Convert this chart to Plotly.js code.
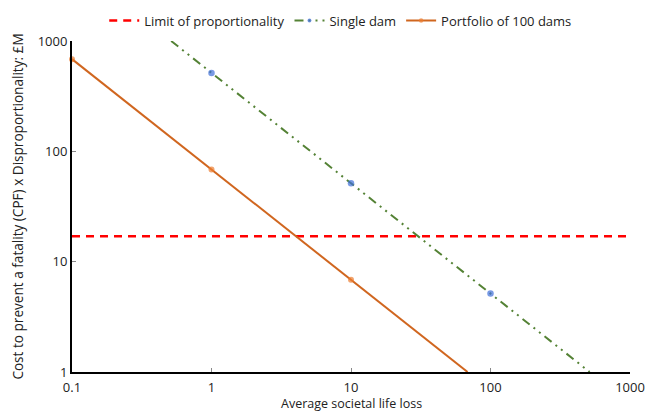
<!DOCTYPE html>
<html>
<head>
<meta charset="utf-8">
<script src="https://cdn.plot.ly/plotly-3.0.1.min.js"></script>
<style>html,body{margin:0;padding:0;background:#fff;}#chart{width:649px;height:412px;}</style>
</head>
<body>
<div id="chart"></div>
<script>
// Data
const xTickVals = [0.1, 1, 10, 100, 1000];
const xTickText = ["0.1", "1", "10", "100", "1000"];
const yTickVals = [1, 10, 100, 1000];
const yTickText = ["1", "10", "100", "1000"];
const xTitle = "Average societal life loss";
const yTitle = "Cost to prevent a fatality (CPF) x Disproportionality: £M";

const limitX = [0.1, 1000];
const limitY = [17, 17];

const singleX = [0.514, 1, 10, 100, 514];
const singleY = [1000, 514, 51.4, 5.14, 1];
const singleMarkerSize = [0, 6.5, 6.5, 6.5, 0];

const portX = [0.1, 1, 10, 68.5];
const portY = [685, 68.5, 6.85, 1];
const portMarkerSize = [6, 6, 6, 0];

const font = "Open Sans, Noto Sans, sans-serif";

const traces = [
  {
    x: limitX, y: limitY, mode: "lines", name: "Limit of proportionality",
    line: {color: "#ff0000", width: 2.5, dash: "8px,6px"}
  },
  {
    x: singleX, y: singleY, mode: "lines+markers", name: "Single dam",
    line: {color: "#548235", width: 2, dash: "9px,5px,2px,5px,2px,5px"},
    marker: {color: "#3f6fd8", size: singleMarkerSize, line: {width: 0}}
  },
  {
    x: portX, y: portY, mode: "lines+markers", name: "Portfolio of 100 dams",
    line: {color: "#d0661f", width: 2},
    marker: {color: "#ed7d31", size: portMarkerSize, line: {width: 0}},
    cliponaxis: false
  }
];

const layout = {
  width: 649, height: 412,
  margin: {l: 72, r: 19, t: 41, b: 40, autoexpand: false},
  paper_bgcolor: "#fff", plot_bgcolor: "#fff",
  font: {family: font, size: 13, color: "#222"},
  showlegend: true,
  legend: {orientation: "h", x: 0.525, xanchor: "center", xref: "container",
           y: 0.95, yanchor: "middle", yref: "container",
           font: {size: 13, color: "#222"}, itemwidth: 30, tracegroupgap: 0},
  xaxis: {
    type: "log", range: [-1, 3], tickvals: xTickVals, ticktext: xTickText,
    showgrid: false, zeroline: false, showline: true, linecolor: "#000", linewidth: 2,
    ticks: "inside", ticklen: 4, tickcolor: "#888", tickfont: {size: 13, color: "#222"},
    ticklabelstandoff: 2
  },
  yaxis: {
    type: "log", range: [0, 3], tickvals: yTickVals, ticktext: yTickText,
    showgrid: false, zeroline: false, showline: true, linecolor: "#000", linewidth: 2,
    ticks: "inside", ticklen: 4, tickcolor: "#888", tickfont: {size: 13, color: "#222"},
    title: {text: yTitle, font: {size: 13.6, color: "#222"}, standoff: 11}
  },
  annotations: [{
    text: xTitle, x: 0.5, xref: "paper", y: 0, yref: "paper",
    xanchor: "center", yanchor: "top", yshift: -22, showarrow: false, borderpad: 0,
    font: {size: 12.5, color: "#222"}
  }]
};

Plotly.newPlot("chart", traces, layout, {displayModeBar: false, staticPlot: true});
</script>
</body>
</html>
